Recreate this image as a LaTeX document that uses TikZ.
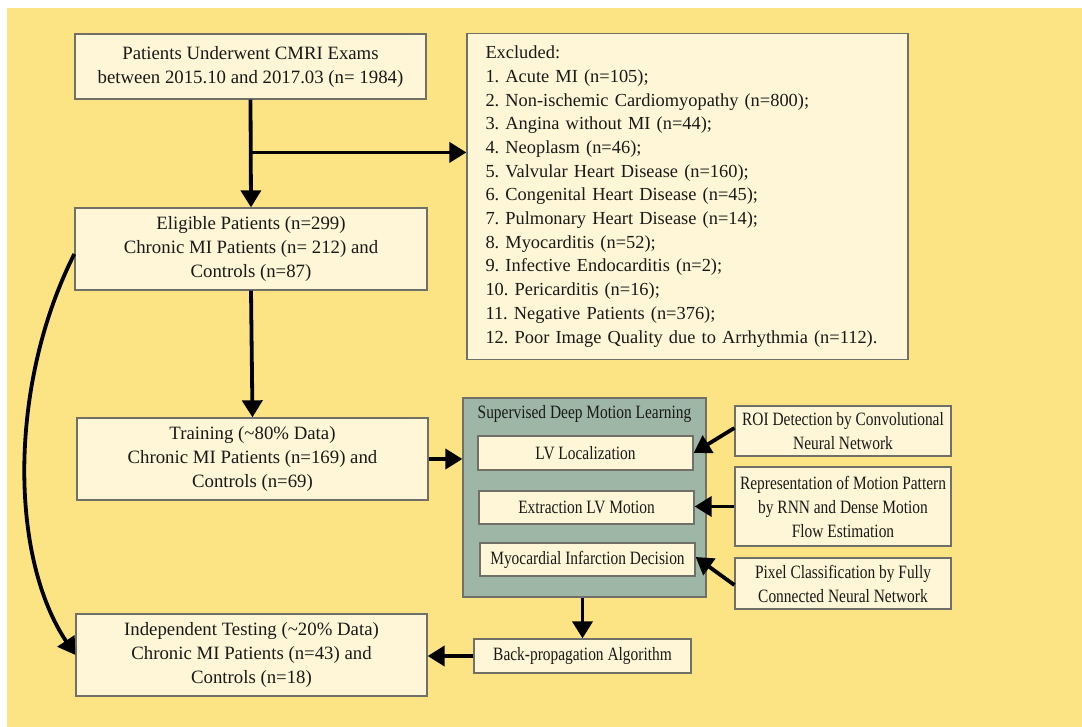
\documentclass[tikz,border=0pt]{standalone}
\usepackage{fontspec}
\setmainfont{Liberation Serif}
\usepackage{graphicx}
\usepackage{tikz}
\usetikzlibrary{arrows.meta, positioning, calc}
\usepackage{xcolor}

\definecolor{bgyellow}{RGB}{252,228,133}
\definecolor{boxcream}{RGB}{254,246,214}
\definecolor{boxedge}{RGB}{112,112,104}
\definecolor{greenbox}{RGB}{158,182,166}
\definecolor{inktext}{RGB}{25,25,25}

% 窄字
\newcommand{\condtext}[1]{\scalebox{0.82}[1]{#1}}

\tikzset{
	box/.style={draw=boxedge, fill=boxcream, line width=1.3pt, align=center, inner sep=0pt, text=inktext},
	group/.style={draw=boxedge, fill=greenbox, line width=1.3pt, inner sep=0pt},
	arr/.style={line width=3.8pt, -{Triangle[length=17pt,width=20pt]}}
}

\begin{document}
\frenchspacing
\begin{tikzpicture}[x=1pt, y=-1pt, font=\fontsize{18.8}{24}\selectfont]
			\useasboundingbox (0,0) rectangle (1082,727);
			\fill[bgyellow] (7,8) rectangle (1082,727);
			% 左列
			\node[box, minimum width=351, minimum height=65] (exams) at (250.5,66.5) {Patients Underwent CMRI Exams\\between 2015.10 and 2017.03 (n= 1984)};
			\node[box, minimum width=352, minimum height=82] (elig) at (251,249) {Eligible Patients (n=299)\\Chronic MI Patients (n= 212) and\\Controls (n=87)};
			\node[box, minimum width=351, minimum height=82] (train) at (252.5,459) {Training (\textasciitilde80\% Data)\\Chronic MI Patients (n=169) and\\Controls (n=69)};
			\node[box, minimum width=351, minimum height=82] (test) at (251.5,655) {Independent Testing (\textasciitilde20\% Data)\\Chronic MI Patients (n=43) and\\Controls (n=18)};
			% 排除
			\node[box, minimum height=326, text width=404, inner xsep=18.5, align=left, font=\fontsize{18.4}{23.7}\selectfont] (excl) at (687.5,196.5) {Excluded:\\
				1. Acute MI (n=105);\\
				2. Non-ischemic Cardiomyopathy (n=800);\\
				3. Angina without MI (n=44);\\
				4. Neoplasm (n=46);\\
				5. Valvular Heart Disease (n=160);\\
				6. Congenital Heart Disease (n=45);\\
				7. Pulmonary Heart Disease (n=14);\\
				8. Myocarditis (n=52);\\
				9. Infective Endocarditis (n=2);\\
				10. Pericarditis (n=16);\\
				11. Negative Patients (n=376);\\
				12. Poor Image Quality due to Arrhythmia (n=112).};
			% 深度学习
			\node[group, minimum width=243, minimum height=199] (sdml) at (584.5,497.5) {};
			\node[text=inktext, inner sep=0pt] (sdmltitle) at ([yshift=-17pt]sdml.north) {\condtext{Supervised Deep Motion Learning}};
			\node[box, minimum width=215, minimum height=34] (lvloc) at (585.5,453) {\condtext{LV Localization}};
			\node[box, minimum width=215, minimum height=33] (lvmot) at (586.5,507.5) {\condtext{Extraction LV Motion}};
			\node[box, minimum width=215, minimum height=33] (midec) at (587.5,559.5) {\condtext{Myocardial Infarction Decision}};
			\node[box, minimum width=217, minimum height=34] (bprop) at (582.5,656) {\condtext{Back-propagation Algorithm}};
			% 右列
			\node[box, minimum width=216, minimum height=50] (roi) at (843,431) {\condtext{ROI Detection by Convolutional}\\\condtext{Neural Network}};
			\node[box, minimum width=216, minimum height=79] (rnn) at (843,506.5) {\condtext{Representation of Motion Pattern}\\\condtext{by RNN and Dense Motion}\\\condtext{Flow Estimation}};
			\node[box, minimum width=216, minimum height=51] (pix) at (843,583.5) {\condtext{Pixel Classification by Fully}\\\condtext{Connected Neural Network}};
			% 箭头
			\coordinate (split) at ($(exams.south)!0.49!(elig.north)$);
			\draw[arr] (exams.south) -- (elig.north);
			\draw[arr] (split) -- (split -| excl.west);
			\draw[arr] (elig.south) -- (train.north);
			\draw[arr] ([yshift=-5pt]elig.west) .. controls (9,383) and (9,556) .. (test.west);
			\draw[arr] (train.east) -- (train.east -| sdml.west);
			\draw[arr] ([yshift=3pt]roi.west) -- (lvloc.east);
			\draw[arr] (rnn.west) -- (rnn.west -| lvmot.east);
			\draw[arr] ([yshift=-1.5pt]pix.west) -- ([yshift=2.5pt]midec.east);
			\draw[arr] (sdml.south -| bprop.north) -- (bprop.north);
			\draw[arr] (bprop.west) -- (bprop.west -| test.east);
		\end{tikzpicture}
\end{document}
